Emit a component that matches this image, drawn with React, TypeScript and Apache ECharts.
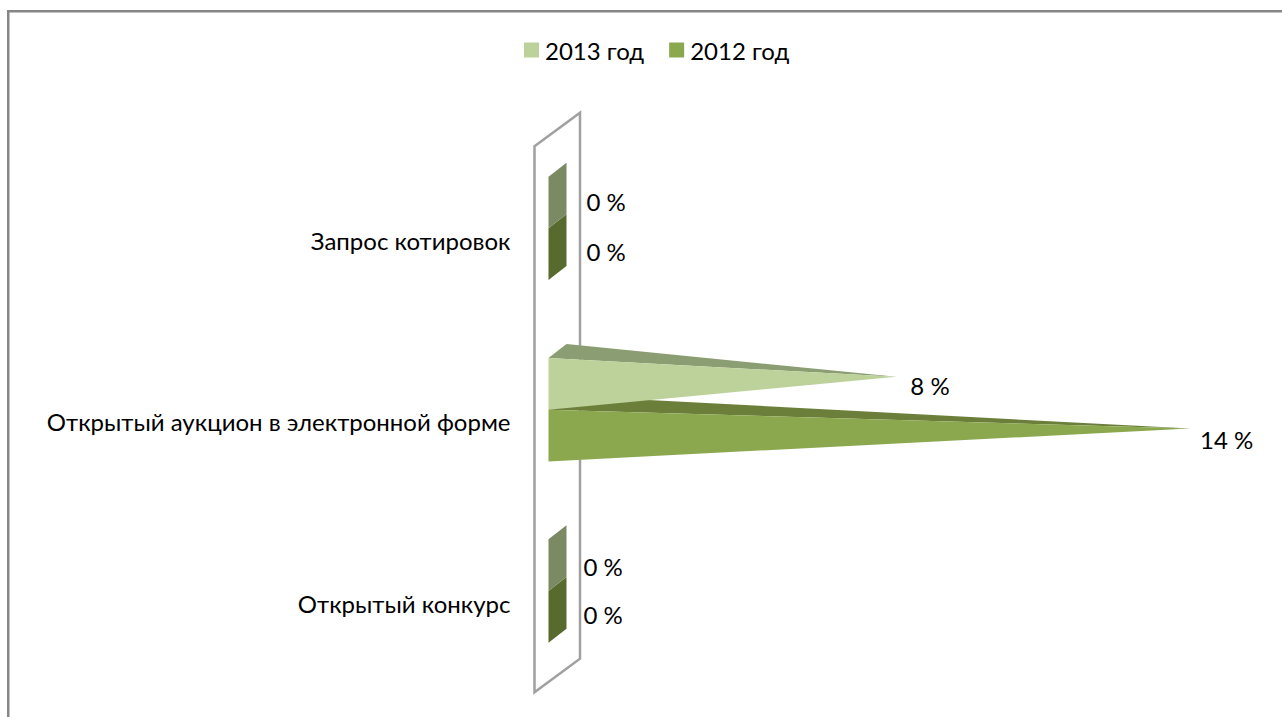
import React, { useEffect, useRef } from "react";
import * as echarts from "echarts";

const categories = ["Запрос котировок", "Открытый аукцион в электронной форме", "Открытый конкурс"];
const seriesNames = ["2013 год", "2012 год"];
const values2013 = [0, 7.5, 0];
const values2012 = [0, 14, 0];

const FONT = "Lato, 'Open Sans', sans-serif";
const DEPTH_X = 18;
const DEPTH_Y = 14;

const colours = [
  { front: "#BDD29A", top: "#8B9D72", flat: "#7B8A62" },
  { front: "#8CA84F", top: "#6B7F3A", flat: "#586A2E" },
];

const labelNudge: Record<string, [number, number][]> = {
  "2013 год": [[38, -1], [14, 2], [35, 1]],
  "2012 год": [[38, -3], [10, 4], [35, -2]],
};

function coneRenderer(seriesIndex: number) {
  return (params: any, api: any) => {
    const idx = params.dataIndex;
    const v = api.value(1);
    const p0 = api.coord([0, api.value(0)]);
    const pv = api.coord([v, api.value(0)]);
    const band = api.size([0, 1])[1];
    const h = band * 0.285;
    const y0 = seriesIndex === 0 ? p0[1] - h : p0[1];
    const y1 = y0 + h;
    const x0 = p0[0];
    const c = colours[seriesIndex];
    const children: any[] = [];
    let labelX: number;
    const labelY = (y0 + y1) / 2;
    const nudge = labelNudge[seriesNames[seriesIndex]][idx];
    if (v === 0) {
      children.push({
        type: "polygon",
        shape: {
          points: [
            [x0, y0],
            [x0 + DEPTH_X, y0 - DEPTH_Y],
            [x0 + DEPTH_X, y1 - DEPTH_Y],
            [x0, y1],
          ],
        },
        style: { fill: c.flat },
      });
      labelX = x0;
    } else {
      const tip = [pv[0] + DEPTH_X / 2, (y0 + y1) / 2 - DEPTH_Y / 2];
      children.push({
        type: "polygon",
        shape: { points: [[x0, y0], [x0 + DEPTH_X, y0 - DEPTH_Y], tip] },
        style: { fill: c.top },
      });
      children.push({
        type: "polygon",
        shape: { points: [[x0, y0], [x0, y1], tip] },
        style: { fill: c.front },
      });
      labelX = tip[0];
    }
    children.push({
      type: "text",
      x: labelX + nudge[0],
      y: labelY + nudge[1],
      style: {
        text: `${Math.round(v)} %`,
        fill: "#000000",
        font: `24px ${FONT}`,
        align: "left",
        verticalAlign: "middle",
      },
    });
    return { type: "group", children };
  };
}

function wallRenderer(_params: any, api: any) {
  const first = api.coord([0, 0]);
  const last = api.coord([0, 2]);
  const band = api.size([0, 1])[1];
  const xL = first[0] - 14;
  const xR = xL + 45.5;
  const yT = first[1] - band / 2 + 8.5;
  const yB = last[1] + band / 2 + 10.5;
  return {
    type: "polygon",
    shape: {
      points: [
        [xL, yT],
        [xR, yT - 33.5],
        [xR, yB - 33.5],
        [xL, yB],
      ],
    },
    style: { fill: "#FFFFFF", stroke: "#A0A0A0", lineWidth: 2.5 },
  };
}

export default function App() {
  const ref = useRef<HTMLDivElement>(null);
  useEffect(() => {
    document.body.style.margin = "0";
    const chart = echarts.init(ref.current!, undefined, { renderer: "svg" });
    chart.setOption({
      animation: false,
      backgroundColor: "#FFFFFF",
      graphic: [
        {
          type: "line",
          z: 0,
          shape: { x1: 7, y1: 11.25, x2: 1282, y2: 11.25 },
          style: { stroke: "#868686", lineWidth: 2.5 },
        },
        {
          type: "line",
          z: 0,
          shape: { x1: 8.25, y1: 10, x2: 8.25, y2: 717 },
          style: { stroke: "#868686", lineWidth: 2.5 },
        },
      ],
      legend: {
        left: 519,
        top: 33,
        data: seriesNames,
        icon: "rect",
        itemWidth: 15,
        itemHeight: 15,
        itemGap: 25,
        selectedMode: false,
        textStyle: { fontFamily: FONT, fontSize: 24, color: "#000000", padding: [0, 0, 0, 1] },
      },
      grid: { left: 548.5, top: 137.7, width: 632.5, height: 544 },
      xAxis: { type: "value", min: 0, max: 14, show: false },
      yAxis: {
        type: "category",
        data: categories,
        inverse: true,
        axisLine: { show: false },
        axisTick: { show: false },
        axisLabel: { margin: 38, fontFamily: FONT, fontSize: 24, color: "#000000", verticalAlign: "top" },
      },
      series: [
        {
          type: "custom",
          name: "wall",
          data: [[0, 0]],
          encode: { x: 0, y: 1 },
          renderItem: wallRenderer,
          silent: true,
          z: 1,
        },
        {
          type: "custom",
          name: seriesNames[1],
          itemStyle: { color: colours[1].front },
          data: values2012.map((v, i) => [i, v]),
          encode: { x: 1, y: 0 },
          renderItem: coneRenderer(1),
          z: 2,
        },
        {
          type: "custom",
          name: seriesNames[0],
          itemStyle: { color: colours[0].front },
          data: values2013.map((v, i) => [i, v]),
          encode: { x: 1, y: 0 },
          renderItem: coneRenderer(0),
          z: 3,
        },
      ],
    });
    return () => chart.dispose();
  }, []);
  return <div ref={ref} style={{ width: 1282, height: 717 }} />;
}
